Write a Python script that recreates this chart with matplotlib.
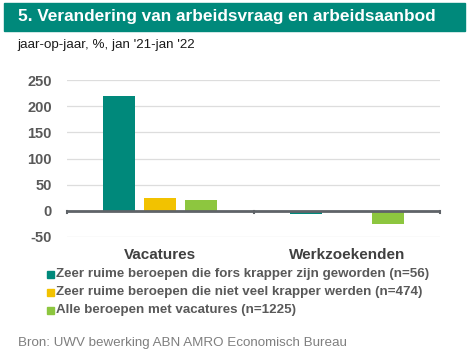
import matplotlib
matplotlib.use("Agg")
import matplotlib.pyplot as plt
from matplotlib.patches import Rectangle
import numpy as np

categories = ["Vacatures", "Werkzoekenden"]
series_names = [
    "Zeer ruime beroepen die fors krapper zijn geworden (n=56)",
    "Zeer ruime beroepen die niet veel krapper werden (n=474)",
    "Alle beroepen met vacatures (n=1225)",
]
series_values = [
    [219, -7],
    [25, 0],
    [21, -25],
]
colors = ["#00897B", "#F2C200", "#8DC63F"]
yticks = [-50, 0, 50, 100, 150, 200, 250]

plt.rcParams["font.family"] = ["Liberation Sans", "DejaVu Sans"]

W, H = 469, 358
fig = plt.figure(figsize=(W / 100, H / 100), dpi=100)
fig.patch.set_facecolor("white")

# Title bar
fig.patches.append(Rectangle((4 / W, 1 - 31 / H), 461 / W, 28 / H,
                             transform=fig.transFigure, color="#00897B", zorder=0))
fig.text(18 / W, 1 - 17 / H, "5. Verandering van arbeidsvraag en arbeidsaanbod",
         color="white", fontsize=12.4, fontweight="bold", va="center", ha="left")
fig.text(17 / W, 1 - 45 / H, "jaar-op-jaar, %, jan '21-jan '22",
         color="#1a1a1a", fontsize=9.6, va="center", ha="left")

# Axes
left, right = 67, 440
top_px, bot_px = 80, 237
ax = fig.add_axes([left / W, 1 - bot_px / H, (right - left) / W, (bot_px - top_px) / H])
ax.set_xlim(0, 2)
ax.set_ylim(-50, 250)

x = np.arange(len(categories)) + 0.5
bw = 0.172
step = 0.22
for i, (vals, c) in enumerate(zip(series_values, colors)):
    ax.bar(x + (i - 1) * step, vals, width=bw, color=c, zorder=3, label=series_names[i])

ax.set_yticks(yticks)
ax.set_yticklabels([str(t) for t in yticks], fontsize=10.5, fontweight="bold", color="#595959")
ax.tick_params(axis="y", length=0, pad=11)
ax.yaxis.grid(True, color="#DDDDDD", linewidth=0.9, zorder=0)
ax.set_xticks(x)
ax.set_xticklabels(categories, fontsize=11, fontweight="bold", color="#404040")
ax.tick_params(axis="x", length=0, pad=8)
for s in ax.spines.values():
    s.set_visible(False)
ax.axhline(0, color="#5f6368", linewidth=2, zorder=4)
for xb in [0, 1, 2]:
    ax.plot([xb, xb], [0, -4], color="#5f6368", linewidth=1.5, zorder=4, clip_on=False)

# Legend
ly = [274, 292, 310]
for name, c, yy in zip(series_names, colors, ly):
    fig.patches.append(Rectangle((47 / W, 1 - (yy + 3.5) / H), 7 / W, 7 / H,
                                 transform=fig.transFigure, color=c))
    fig.text(56 / W, 1 - yy / H, name, fontsize=9.6, fontweight="bold",
             color="#595959", va="center", ha="left")

fig.text(18 / W, 1 - 343 / H, "Bron: UWV bewerking ABN AMRO Economisch Bureau",
         fontsize=9.6, color="#7f7f7f", va="center", ha="left")

fig.savefig("out.png", dpi=100)
